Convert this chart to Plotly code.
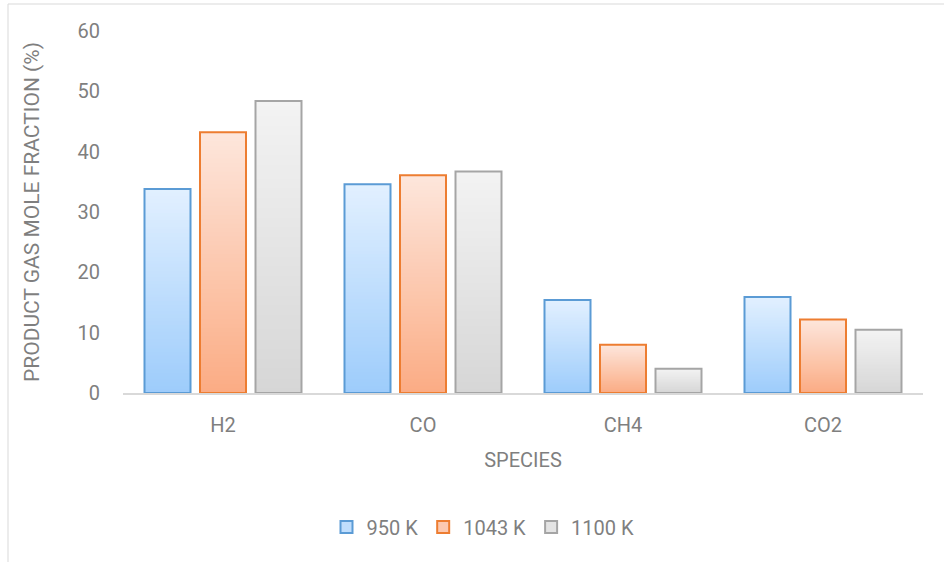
import plotly.graph_objects as go

# Product gas composition by species at three gasification temperatures
species = ["H2", "CO", "CH4", "CO2"]
series_names = ["950 K", "1043 K", "1100 K"]
frac_950 = [33.8, 34.6, 15.4, 15.9]
frac_1043 = [43.2, 36.1, 8.0, 12.2]
frac_1100 = [48.4, 36.7, 4.0, 10.5]

# (top colour, bottom colour, outline colour) for each series
styles = [
    ((226, 240, 255), (157, 204, 251), "#5b9bd5"),
    ((253, 230, 220), (251, 172, 132), "#ed7d31"),
    ((243, 243, 243), (214, 214, 214), "#a5a5a5"),
]

FONT = "Roboto"
GREY = "#7f7f7f"
FS = 20
N_STEPS = 60

fig = go.Figure()


def mix(c_top, c_bot, t):
    # t = 0 at the bar foot, 1 at the bar top
    r, g, b = (round(c_bot[k] + (c_top[k] - c_bot[k]) * t) for k in range(3))
    return f"rgb({r},{g},{b})"


for name, values, (c_top, c_bot, edge) in zip(
    series_names, [frac_950, frac_1043, frac_1100], styles
):
    # vertical gradient fill: progressively shorter bars drawn over each other
    for k in range(N_STEPS):
        frac = (N_STEPS - k) / N_STEPS
        fig.add_trace(go.Bar(
            x=species,
            y=[v * frac for v in values],
            offsetgroup=name,
            marker=dict(color=mix(c_top, c_bot, frac - 0.5 / N_STEPS), line=dict(width=0)),
            showlegend=False,
            hoverinfo="skip",
        ))
    # outline of the full bar
    fig.add_trace(go.Bar(
        x=species,
        y=values,
        offsetgroup=name,
        marker=dict(color="rgba(0,0,0,0)", line=dict(color=edge, width=2)),
        showlegend=False,
        name=name,
    ))
    # legend swatch
    fig.add_trace(go.Bar(
        x=[species[0]],
        y=[None],
        offsetgroup=name,
        name=name,
        marker=dict(color=mix(c_top, c_bot, 0.5), line=dict(color=edge, width=2)),
        showlegend=True,
    ))

ML, MR, MT, MB = 123, 21, 31, 169
W, H = 944, 562
pw, ph = W - ML - MR, H - MT - MB

fig.update_layout(
    width=W,
    height=H,
    margin=dict(l=ML, r=MR, t=MT, b=MB),
    paper_bgcolor="white",
    plot_bgcolor="white",
    barmode="group",
    bargap=0.1675,
    bargroupgap=0.171,
    font=dict(family=FONT, color=GREY, size=FS),
    showlegend=True,
    legend=dict(
        orientation="h",
        x=0.45,
        xanchor="center",
        y=(H - MB - 527) / ph,
        yanchor="middle",
        font=dict(size=FS, color=GREY),
        itemwidth=30,
        traceorder="normal",
    ),
    xaxis=dict(
        showline=True,
        linecolor="#d9d9d9",
        linewidth=2,
        ticks="",
        ticklabelstandoff=13,
        tickfont=dict(size=FS, color=GREY),
        title=dict(text="SPECIES", font=dict(size=FS, color=GREY), standoff=17),
    ),
    yaxis=dict(
        range=[0, 60],
        dtick=10,
        showgrid=False,
        zeroline=False,
        showline=False,
        ticks="",
        ticklabelstandoff=22,
        tickfont=dict(size=FS, color=GREY),
        title=dict(text="PRODUCT GAS MOLE FRACTION (%)", font=dict(size=21, color=GREY), standoff=32),
    ),
    shapes=[
        dict(
            type="rect",
            xref="paper",
            yref="paper",
            x0=(8 - ML) / pw,
            x1=(W + 20 - ML) / pw,
            y0=(H - MB - (H + 20)) / ph,
            y1=(H - MB - 4) / ph,
            line=dict(color="#d9d9d9", width=1),
            fillcolor="rgba(0,0,0,0)",
            layer="below",
        )
    ],
)

fig.write_html("out.html")
